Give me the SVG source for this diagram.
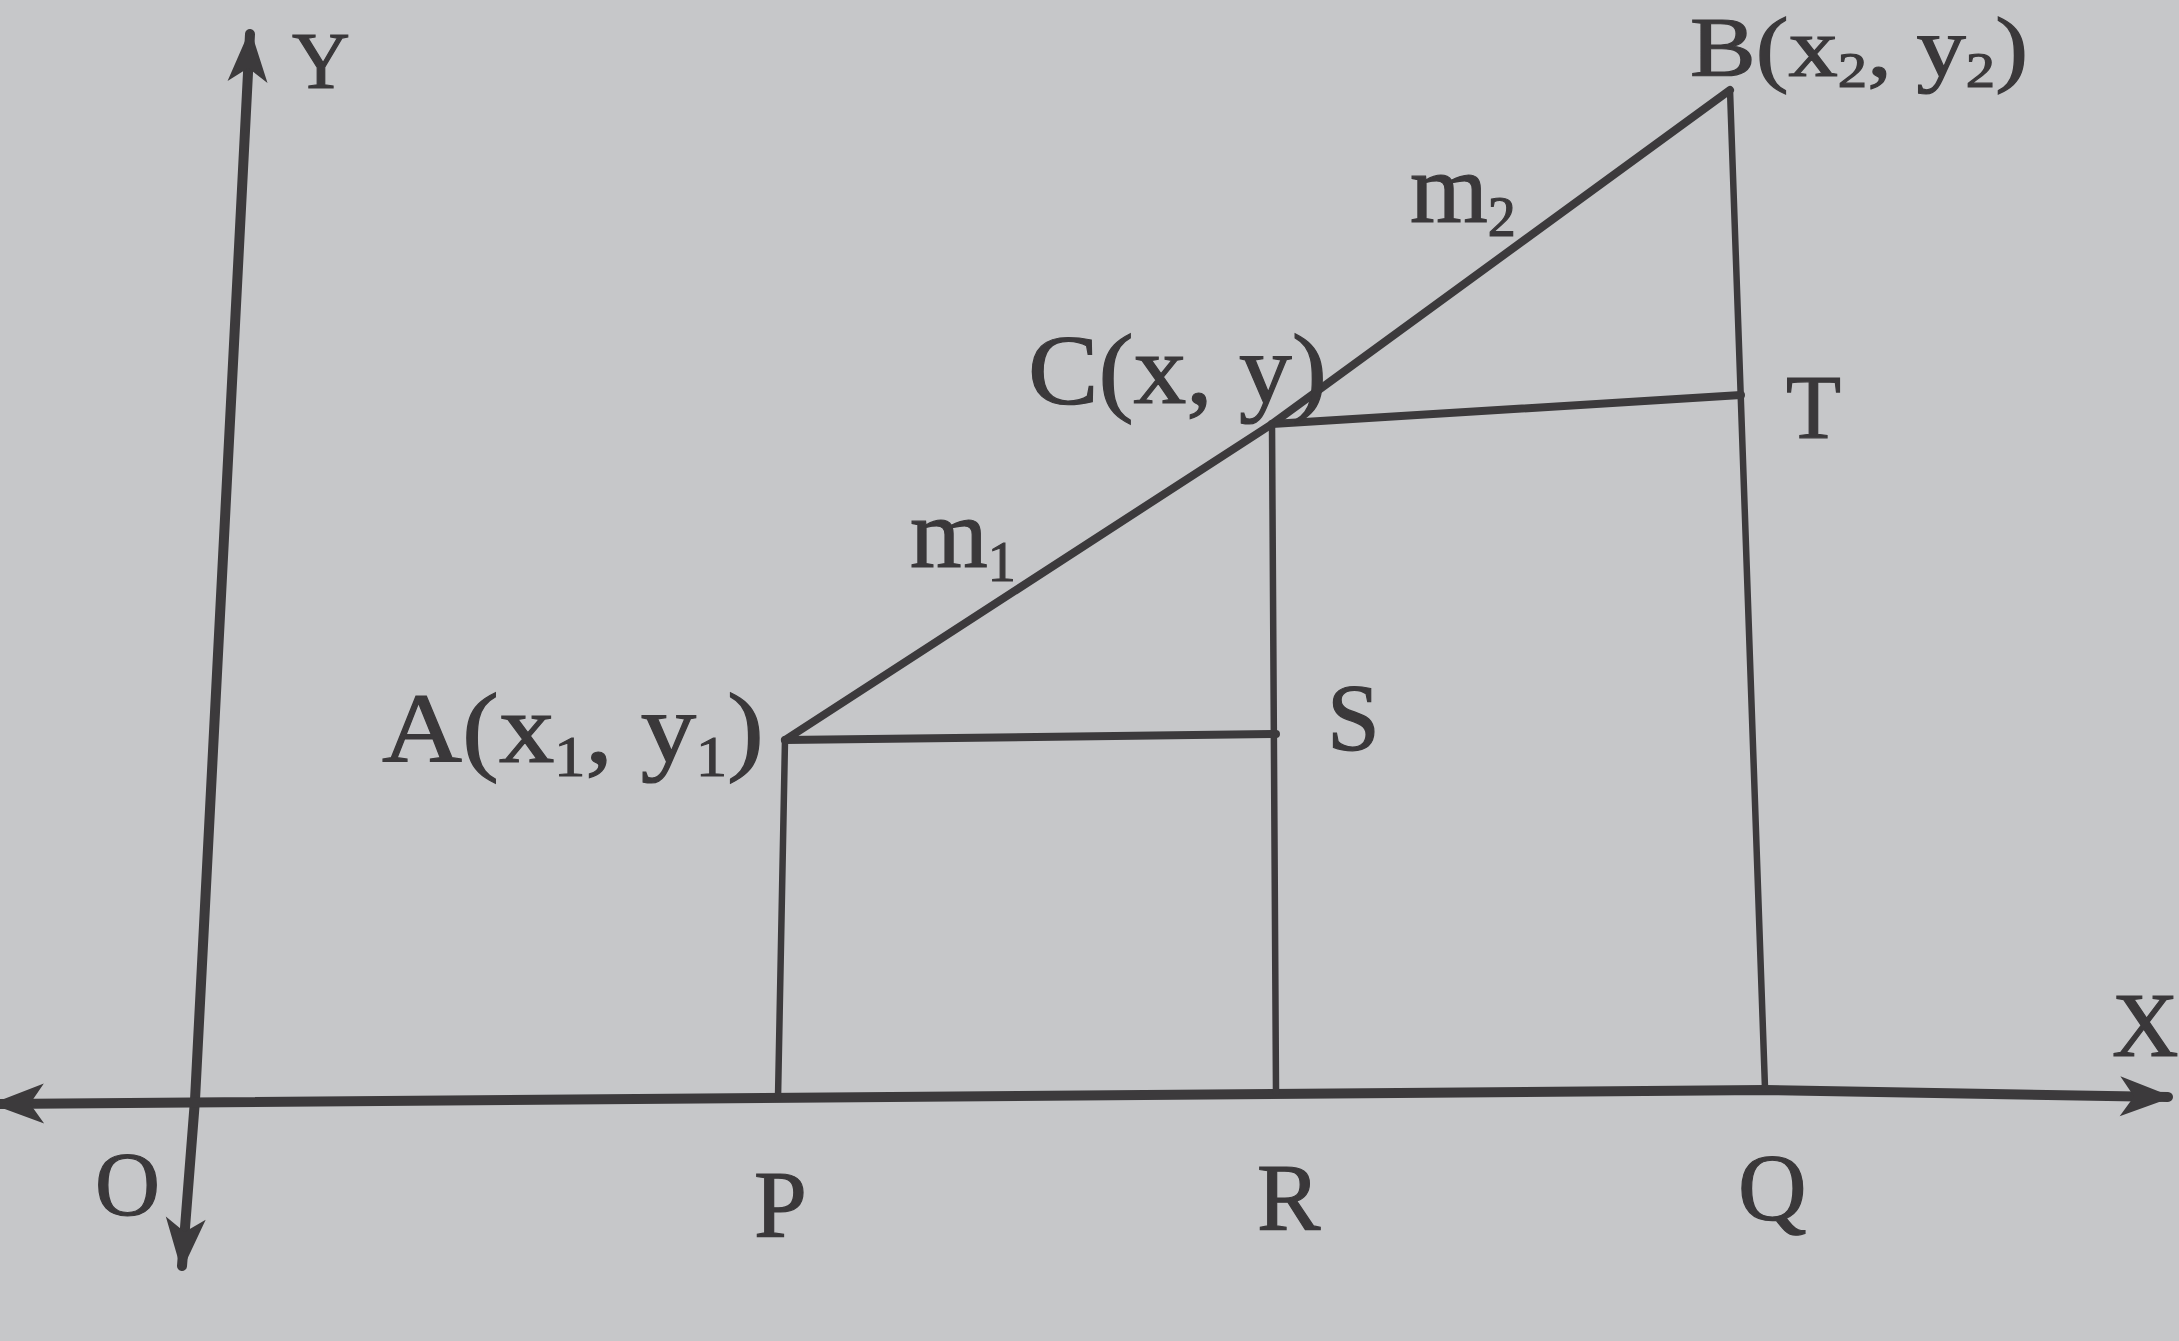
<svg xmlns="http://www.w3.org/2000/svg" width="2179" height="1341" viewBox="0 0 2179 1341">
<style>
.ln{stroke:#3c3a3c;fill:none;stroke-linecap:round;stroke-linejoin:round}
.ax{stroke-width:10}
.th{stroke-width:8}
.vt{stroke-width:6.5}
.lb{font-family:"Liberation Serif","Times New Roman",serif;fill:#3a383a;stroke:#3a383a;stroke-width:1.2}
</style>
<defs>
<marker id="arr" markerUnits="userSpaceOnUse" markerWidth="90" markerHeight="70" viewBox="-55 -35 65 70" refX="0" refY="0" orient="auto-start-reverse">
<path d="M5 0 L-48 -20 L-34 0 L-48 20 Z" fill="#3c3a3c"/>
</marker>
</defs>
<rect width="2179" height="1341" fill="#c6c7c9"/>
<g id="connectors">
<path id="y-axis" class="ln ax" d="M250 34 L195 1100 L182 1266" marker-start="url(#arr)" marker-end="url(#arr)"/>
<path id="x-axis" class="ln ax" d="M-4 1104 L1765 1090 L2168 1097" marker-start="url(#arr)" marker-end="url(#arr)"/>
<path id="AP" class="ln vt" d="M785 740 L778 1098"/>
<path id="CR" class="ln vt" d="M1272 424 L1276 1092"/>
<path id="BQ" class="ln vt" d="M1730 90 L1765 1088"/>
<path id="ACB" class="ln th" d="M785 740 L1272 424 L1730 90"/>
<path id="AS" class="ln th" d="M785 740 L1276 734"/>
<path id="CT" class="ln th" d="M1272 424 L1741 395"/>
</g>
<g id="node-Y"><text class="lb" x="292" y="88" font-size="80">Y</text></g>
<g id="node-X"><text class="lb" x="2112" y="1056" font-size="92">X</text></g>
<g id="node-O"><text class="lb" x="95" y="1215" font-size="90">O</text></g>
<g id="node-P"><text class="lb" x="754" y="1237" font-size="95">P</text></g>
<g id="node-R"><text class="lb" x="1257" y="1230" font-size="95">R</text></g>
<g id="node-Q"><text class="lb" x="1738" y="1220" font-size="95">Q</text></g>
<g id="node-A"><text class="lb" x="382" y="762" font-size="100" textLength="382" lengthAdjust="spacingAndGlyphs">A(x<tspan font-size="56" dy="14">1</tspan><tspan dy="-14">, y</tspan><tspan font-size="56" dy="14">1</tspan><tspan dy="-14">)</tspan></text></g>
<g id="node-S"><text class="lb" x="1327" y="750" font-size="95">S</text></g>
<g id="node-C"><text class="lb" x="1028" y="403" font-size="100" textLength="299" lengthAdjust="spacingAndGlyphs">C(x, y)</text></g>
<g id="node-T"><text class="lb" x="1786" y="438" font-size="90">T</text></g>
<g id="node-B"><text class="lb" x="1690" y="76" font-size="84" textLength="338" lengthAdjust="spacingAndGlyphs">B(x<tspan font-size="50" dy="11">2</tspan><tspan dy="-11">, y</tspan><tspan font-size="50" dy="11">2</tspan><tspan dy="-11">)</tspan></text></g>
<g id="label-m1"><text class="lb" x="910" y="567" font-size="100">m<tspan font-size="56" dy="14">1</tspan></text></g>
<g id="label-m2"><text class="lb" x="1410" y="222" font-size="100">m<tspan font-size="56" dy="14">2</tspan></text></g>
</svg>
